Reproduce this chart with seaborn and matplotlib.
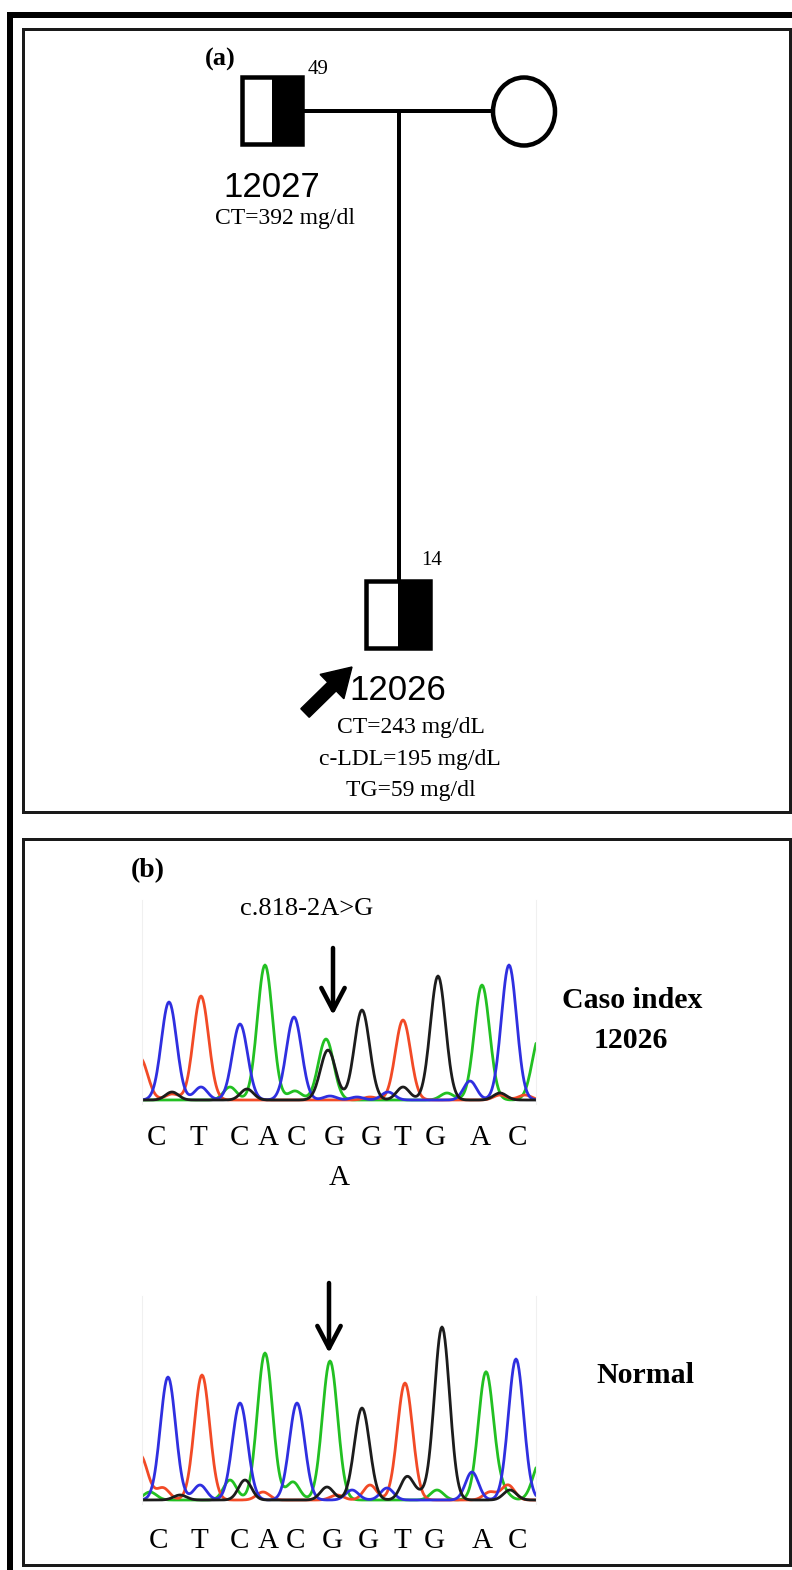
import numpy as np
import pandas as pd
import matplotlib
matplotlib.use("Agg")
import matplotlib.pyplot as plt
import seaborn as sns
from matplotlib.patches import Rectangle, Ellipse, FancyArrow

# ---------------- data ----------------
# chromatogram of the index case (12026): main peaks (scan position, signal, channel)
mut_peak_pos = [140, 169, 201, 240, 265, 294, 326, 328, 362, 403, 438, 482, 509, 540]
mut_peak_h = [42, 98, 104, 76, 135, 83, 61, 50, 90, 80, 124, 115, 135, 65]
mut_peak_ch = ["red", "blue", "red", "blue", "green", "blue", "green", "black",
               "black", "red", "black", "green", "blue", "green"]
# small background bumps
mut_bump_pos = [172, 172, 201, 230, 247, 295, 330, 357, 370, 388, 403, 447, 470, 500, 500, 525]
mut_bump_h = [8, 6, 13, 13, 11, 9, 4, 3, 3, 8, 13, 7, 19, 7, 5, 5]
mut_bump_ch = ["black", "red", "blue", "green", "black", "green", "blue", "blue",
               "red", "blue", "black", "green", "blue", "black", "red", "red"]

# chromatogram of the normal control
nor_peak_pos = [140, 168, 202, 240, 265, 297, 330, 362, 405, 442, 486, 516, 541]
nor_peak_h = [45, 123, 125, 97, 147, 97, 139, 92, 117, 173, 128, 141, 40]
nor_peak_ch = ["red", "blue", "red", "blue", "green", "blue", "green", "black",
               "red", "black", "green", "blue", "green"]
nor_bump_pos = [163, 150, 200, 230, 245, 263, 293, 327, 337, 352, 370, 387, 407, 437,
                472, 490, 510, 508, 503, 180, 420]
nor_bump_h = [12, 8, 15, 20, 20, 8, 18, 13, 5, 10, 15, 12, 23, 10, 28, 8, 10, 15, 8, 5, 5]
nor_bump_ch = ["red", "green", "blue", "green", "black", "red", "green", "black", "red",
               "blue", "red", "blue", "black", "green", "blue", "red", "black", "red",
               "green", "black", "black"]

# base calls (tick labels) and their positions along the trace
mut_letters = ["C", "T", "C", "A", "C", "G", "G", "T", "G", "A", "C"]
mut_letter_pos = [156, 198, 240, 268, 297, 334, 371, 402, 435, 480, 518]
nor_letters = ["C", "T", "C", "A", "C", "G", "G", "T", "G", "A", "C"]
nor_letter_pos = [158, 199, 240, 268, 296, 332, 368, 402, 434, 482, 518]

channel_colors = {"green": "#22c022", "red": "#f24a26", "blue": "#2f2fe0", "black": "#1c1c1c"}
channel_order = ["green", "red", "blue", "black"]

# ---------------- helpers ----------------
W, H = 792, 1570
def pt(v):
    return v * 0.72

def build_trace(ppos, ph, pch, bpos, bh, bch):
    x = np.arange(142, 537, 1.0)
    rows = []
    for ch in channel_order:
        sig = np.zeros_like(x)
        for p, h, c in zip(ppos, ph, pch):
            if c == ch:
                sig += h * np.exp(-(x - p) ** 2 / (2 * 7.6 ** 2))
        for p, h, c in zip(bpos, bh, bch):
            if c == ch:
                sig += h * np.exp(-(x - p) ** 2 / (2 * 6.5 ** 2))
        rows.append(pd.DataFrame({"scan": x, "signal": sig, "channel": ch}))
    return pd.concat(rows, ignore_index=True)

sns.set_style("white")
plt.rcParams["font.family"] = ["Liberation Serif", "DejaVu Serif"]
plt.rcParams["text.color"] = "black"
plt.rcParams["xtick.color"] = "black"
plt.rcParams["xtick.labelcolor"] = "black"

fig = plt.figure(figsize=(W / 100, H / 100), dpi=100)
ov = fig.add_axes([0, 0, 1, 1])
ov.set_xlim(0, W)
ov.set_ylim(H, 0)
ov.axis("off")

# outer and panel frames
ov.plot([10, W + 10], [15, 15], color="black", lw=pt(6), solid_capstyle="butt")
ov.plot([10, 10], [12, H + 10], color="black", lw=pt(6), solid_capstyle="butt")
ov.add_patch(Rectangle((23, 29), 767, 783, fill=False, ec="#1a1a1a", lw=pt(3)))
ov.add_patch(Rectangle((23, 839), 767, 726, fill=False, ec="#1a1a1a", lw=pt(3)))

# ---------------- pedigree (a) ----------------
LW = pt(4.5)
ov.plot([302, 494], [111, 111], color="black", lw=pt(4), zorder=2)
ov.plot([399, 399], [111, 581], color="black", lw=pt(4), zorder=2)
# father
ov.add_patch(Rectangle((242, 77), 60, 67, fc="white", ec="none", zorder=3))
ov.add_patch(Rectangle((272, 77), 30, 67, fc="black", ec="none", zorder=3))
ov.add_patch(Rectangle((242, 77), 60, 67, fill=False, ec="black", lw=LW, zorder=4))
# mother
ov.add_patch(Ellipse((524, 111.5), 62, 68, fc="white", ec="black", lw=LW, zorder=3))
# son (proband)
ov.add_patch(Rectangle((366, 581), 64, 67, fc="white", ec="none", zorder=3))
ov.add_patch(Rectangle((398, 581), 32, 67, fc="black", ec="none", zorder=3))
ov.add_patch(Rectangle((366, 581), 64, 67, fill=False, ec="black", lw=LW, zorder=4))

serif = ["Liberation Serif", "DejaVu Serif"]
sans = ["Liberation Sans", "DejaVu Sans"]
ov.text(220, 66, "(a)", fontsize=19, fontweight="bold", family=serif, ha="center", va="baseline")
ov.text(318, 74, "49", fontsize=15, family=serif, ha="center", va="baseline")
ov.text(272, 197, "12027", fontsize=25, family=sans, ha="center", va="baseline")
ov.text(285, 224, "CT=392 mg/dl", fontsize=17, family=serif, ha="center", va="baseline")
ov.text(432, 565, "14", fontsize=15, family=serif, ha="center", va="baseline")
ov.text(398, 700, "12026", fontsize=25, family=sans, ha="center", va="baseline", zorder=3)
ov.text(411, 733, "CT=243 mg/dL", fontsize=17, family=serif, ha="center", va="baseline")
ov.text(410, 765, "c-LDL=195 mg/dL", fontsize=17, family=serif, ha="center", va="baseline")
ov.text(411, 796, "TG=59 mg/dl", fontsize=17, family=serif, ha="center", va="baseline")
ov.add_patch(FancyArrow(305, 713, 47, -46, width=12, head_width=34, head_length=28,
                        length_includes_head=True, fc="black", ec="black", zorder=5))

# ---------------- chromatograms (b) ----------------
ov.text(148, 877, "(b)", fontsize=20, fontweight="bold", family=serif, ha="center", va="baseline")
ov.text(307, 915, "c.818-2A>G", fontsize=19, family=serif, ha="center", va="baseline", zorder=6)
ov.text(632, 1008, "Caso index", fontsize=21.5, fontweight="bold", family=serif, ha="center", va="baseline")
ov.text(631, 1048, "12026", fontsize=21.5, fontweight="bold", family=serif, ha="center", va="baseline")
ov.text(645, 1383, "Normal", fontsize=21.5, fontweight="bold", family=serif, ha="center", va="baseline")
ov.text(339, 1185, "A", fontsize=21, family=serif, ha="center", va="baseline")

arrow_style = dict(arrowstyle="->,head_length=0.8,head_width=0.42", lw=pt(4.5), color="black",
                   mutation_scale=20, shrinkA=0, shrinkB=0)
ov.annotate("", xy=(333, 1015), xytext=(333, 948), arrowprops=arrow_style)
ov.annotate("", xy=(329, 1353), xytext=(329, 1283), arrowprops=arrow_style)

def chrom_axes(top, bottom, ylim, df, letter_pos, letters, pad_px):
    ax = fig.add_axes([142 / W, 1 - bottom / H, (536 - 142) / W, (bottom - top) / H])
    ax.patch.set_alpha(0)
    sns.lineplot(data=df, x="scan", y="signal", hue="channel", hue_order=channel_order,
                 palette=channel_colors, estimator=None, legend=False, linewidth=2.0, ax=ax)
    ax.set_xlim(142, 536)
    ax.set_ylim(*ylim)
    ax.set_xlabel("")
    ax.set_ylabel("")
    ax.set_yticks([])
    ax.set_xticks(letter_pos, letters, fontsize=21, family=serif)
    ax.tick_params(axis="x", length=0, pad=pt(pad_px))
    for name, s in ax.spines.items():
        s.set_color("#f0f0f0")
        s.set_linewidth(0.8)
    ax.spines["top"].set_visible(False)
    ax.spines["bottom"].set_visible(False)
    return ax

df_mut = build_trace(mut_peak_pos, mut_peak_h, mut_peak_ch, mut_bump_pos, mut_bump_h, mut_bump_ch)
df_nor = build_trace(nor_peak_pos, nor_peak_h, nor_peak_ch, nor_bump_pos, nor_bump_h, nor_bump_ch)
chrom_axes(900, 1104, (-4, 200), df_mut, mut_letter_pos, mut_letters, 21)
chrom_axes(1296, 1504, (-4, 204), df_nor, nor_letter_pos, nor_letters, 24)

fig.savefig("out.png", dpi=100)
